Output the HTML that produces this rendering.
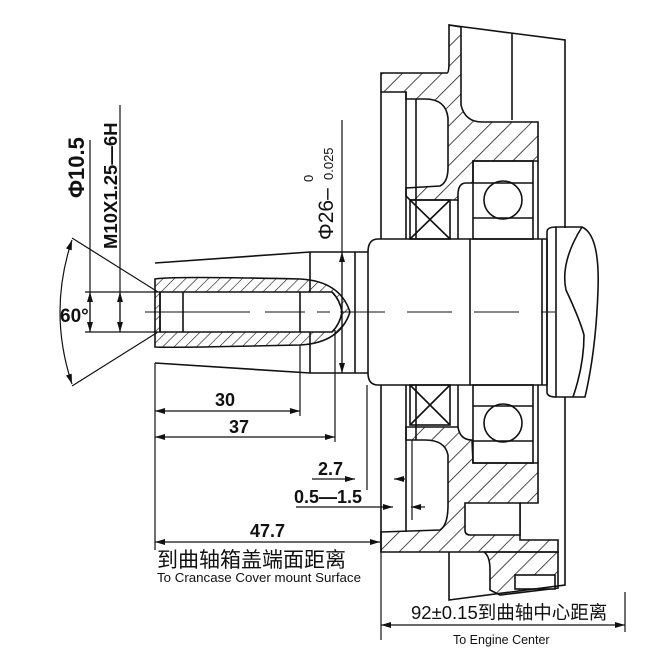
<!DOCTYPE html>
<html><head><meta charset="utf-8"><style>
html,body{margin:0;padding:0;background:#fff}
svg{display:block}
text{font-family:"Liberation Sans","Noto Sans CJK SC",sans-serif;fill:#111}
</style></head><body>
<svg width="670" height="670" viewBox="0 0 670 670" xmlns="http://www.w3.org/2000/svg">
<defs>
<pattern id="h" width="14" height="14" patternUnits="userSpaceOnUse" patternTransform="rotate(45)">
<line x1="0" y1="0" x2="0" y2="14" stroke="#111" stroke-width="1.5"/></pattern>
<pattern id="hs" width="8" height="8" patternUnits="userSpaceOnUse" patternTransform="rotate(45)">
<line x1="0" y1="0" x2="0" y2="8" stroke="#111" stroke-width="1.2"/></pattern>
<marker id="a" viewBox="0 0 10 6" refX="10" refY="3" markerWidth="10" markerHeight="6" orient="auto-start-reverse" markerUnits="userSpaceOnUse">
<path d="M0,0 L10,3 L0,6 Z" fill="#111"/></marker>
</defs>
<g fill="none" stroke="#111" stroke-width="1.6">
<path d="M155,263 L310,252 L368,252 M155,363 L310,373 L368,373"/>
<line x1="310" y1="252" x2="310" y2="373"/>
<line x1="355" y1="252" x2="355" y2="373"/>
<path d="M368,252 Q368,239 378,239 L547,239 M368,373 Q368,385 378,385 L547,385"/>
<line x1="368" y1="252" x2="368" y2="373"/>
<path d="M155,279 Q170,276 300,279 Q340,281 350,312 Q340,343 300,345 Q170,348 155,347 Z" fill="url(#hs)"/>
<path d="M160,292 L300,292 L332,292 Q340,300 342,312 Q340,324 332,332 L160,332 Z" fill="#fff"/>
<line x1="300" y1="292" x2="300" y2="332"/>
<line x1="183" y1="292" x2="183" y2="332"/>
<line x1="160" y1="292" x2="160" y2="332"/>
<line x1="470" y1="239" x2="470" y2="385"/>
<line x1="542" y1="239" x2="542" y2="385"/>
<line x1="547" y1="239" x2="547" y2="385"/>
<path d="M547,232 Q547,227 556,227 L582,227 Q600,235 598,290 Q596,350 585,397 L556,397 Q547,397 547,392 Z"/>
<line x1="556" y1="227" x2="556" y2="397"/>
<path d="M582,227 Q560,262 566,290 Q580,320 584,335 Q584,365 573,397"/>
<path d="M449,25 L565,40 L565,228 M512,33 L512,120"/>
<path d="M381,73 L447,73 Q449,73 449,62 L449,25 L461,27 L461,105 Q465,122 482,122 L538,122 L538,161 L473,161 L473,183 L466,183 Q458,183 458,195 L458,200 L410,200 L406,196 L406,188 L440,186 Q448,182 448,168 L448,118 Q446,99 425,99 L406,99 L406,92 L381,92 Z" fill="url(#h)"/>
<path d="M381,92 L381,239 M406,92 L406,239 M416,99 L416,239"/>
<rect x="410" y="200" width="40" height="39"/>
<path d="M410,200 L450,239 M450,200 L410,239"/>
<path d="M458,200 L458,239"/>
<rect x="473" y="161" width="60" height="78"/>
<line x1="473" y1="183" x2="533" y2="183"/><line x1="473" y1="218" x2="533" y2="218"/>
<circle cx="503" cy="200" r="19"/>
<line x1="538" y1="161" x2="538" y2="239"/>
<path d="M381,385 L381,552 M406,385 L406,532 M416,385 L416,440"/>
<rect x="410" y="385" width="40" height="40"/>
<path d="M410,385 L450,425 M450,385 L410,425"/>
<path d="M458,385 L458,427"/>
<rect x="473" y="385" width="60" height="78"/>
<line x1="473" y1="406" x2="533" y2="406"/><line x1="473" y1="441" x2="533" y2="441"/>
<circle cx="503" cy="423" r="19"/>
<line x1="538" y1="385" x2="538" y2="463"/>
<path d="M381,532 L440,530 Q448,525 448,505 L448,455 Q445,440 425,440 L406,440 L406,427 L458,427 Q460,440 472,440 L473,463 L538,463 L538,503 L520,503 L520,540 L558,540 L558,552 L381,552 Z" fill="url(#h)"/>
<path d="M465,503 L520,503 L520,535 L470,535 Q465,535 465,530 Z" fill="#fff"/>
<path d="M490,552 L558,552 L558,588 L500,595 L490,590 L490,570 Q490,556 484,552 Z" fill="url(#h)"/>
<rect x="515" y="575" width="40" height="14" fill="#fff"/>
<path d="M449,552 L449,600 L565,585 L565,397"/>
</g>
<g stroke="#111" stroke-width="1">
<line x1="145" y1="312" x2="250" y2="312"/>
<line x1="265" y1="312" x2="330" y2="312" stroke-dasharray="40,12"/>
<line x1="340" y1="312" x2="555" y2="312" stroke-dasharray="45,22"/>
</g>
<g stroke="#111" stroke-width="1.2" fill="none">
<line x1="85" y1="292" x2="160" y2="292"/><line x1="85" y1="332" x2="160" y2="332"/>
<line x1="90" y1="140" x2="90" y2="332"/>
<line x1="90" y1="292" x2="90" y2="332" marker-start="url(#a)" marker-end="url(#a)"/>
<line x1="120" y1="105" x2="120" y2="332"/>
<line x1="120" y1="292" x2="120" y2="332" marker-start="url(#a)" marker-end="url(#a)"/>
<line x1="72" y1="238" x2="158" y2="292"/><line x1="72" y1="386" x2="158" y2="332"/>
<path d="M72,240 Q48,312 72,384" marker-start="url(#a)" marker-end="url(#a)"/>
<line x1="155" y1="363" x2="155" y2="550"/>
<line x1="300" y1="345" x2="300" y2="416"/>
<line x1="335" y1="330" x2="335" y2="442"/>
<line x1="155" y1="411" x2="300" y2="411" marker-start="url(#a)" marker-end="url(#a)"/>
<line x1="155" y1="437" x2="335" y2="437" marker-start="url(#a)" marker-end="url(#a)"/>
<line x1="342" y1="120" x2="342" y2="373"/>
<line x1="342" y1="252" x2="342" y2="373" marker-start="url(#a)" marker-end="url(#a)"/>
<line x1="155" y1="542" x2="380" y2="542" marker-start="url(#a)" marker-end="url(#a)"/>
<line x1="381" y1="552" x2="381" y2="640"/>
<line x1="625" y1="592" x2="625" y2="632"/>
<line x1="381" y1="625" x2="625" y2="625" marker-start="url(#a)" marker-end="url(#a)"/>
<line x1="367" y1="385" x2="367" y2="490"/>
<line x1="312" y1="479" x2="355" y2="479" marker-end="url(#a)"/>
<line x1="394" y1="479" x2="405" y2="479" marker-start="url(#a)"/>
<line x1="296" y1="507" x2="393" y2="507" marker-end="url(#a)"/>
<line x1="411" y1="507" x2="425" y2="507" marker-start="url(#a)"/>
<line x1="412" y1="440" x2="412" y2="520"/>
</g>
<text x="60" y="322" font-size="19" font-weight="bold">60°</text>
<text transform="translate(84,198) rotate(-90)" font-size="22" font-weight="bold">Φ10.5</text>
<text transform="translate(117,249) rotate(-90)" font-size="18.5" font-weight="bold">M10X1.25—6H</text>
<text transform="translate(333,240) rotate(-90)" font-size="21">Φ26–</text>
<text transform="translate(313,182) rotate(-90)" font-size="13">0</text>
<text transform="translate(333,180) rotate(-90)" font-size="13">0.025</text>
<text x="215" y="406" font-size="18" font-weight="bold">30</text>
<text x="229" y="433" font-size="18" font-weight="bold">37</text>
<text x="318" y="475" font-size="18" font-weight="bold">2.7</text>
<text x="294" y="503" font-size="18" font-weight="bold">0.5—1.5</text>
<text x="250" y="537" font-size="18" font-weight="bold">47.7</text>
<text x="157" y="567" font-size="21">到曲轴箱盖端面距离</text>
<text x="157" y="582" font-size="13.3">To Crancase Cover mount Surface</text>
<text x="411" y="619" font-size="18.5">92±0.15到曲轴中心距离</text>
<text x="453" y="644" font-size="12.5">To Engine Center</text>
</svg>
</body></html>
